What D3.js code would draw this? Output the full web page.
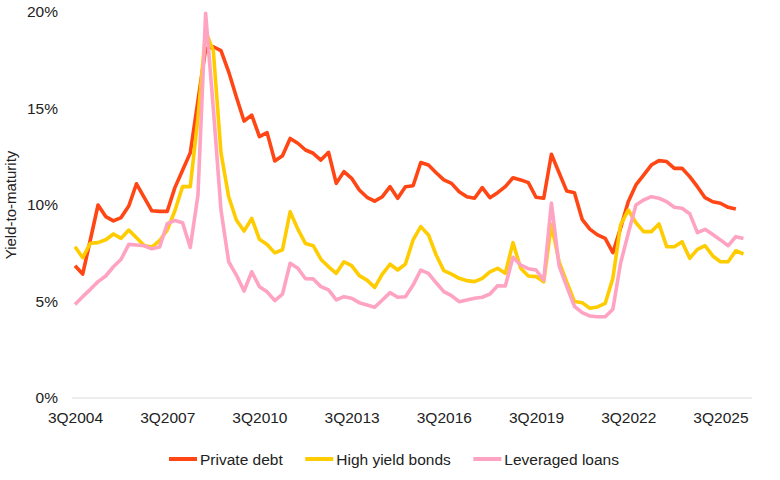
<!DOCTYPE html>
<html>
<head>
<meta charset="utf-8">
<script src="https://cdn.jsdelivr.net/npm/d3@7"></script>
<style>
  html, body { margin: 0; padding: 0; background: #fff; }
  svg text { font-family: "Liberation Sans", Arial, sans-serif; fill: #222; }
</style>
</head>
<body>
<div id="chart"></div>
<script>
// quarterly yields (%), first point 3Q2004
const startYear = 2004;
const startQuarter = 3;

const privateDebt = [
  6.85, 6.42, 8.2, 10.0, 9.4, 9.18, 9.35, 9.95, 11.1, 10.4,
  9.7, 9.67, 9.67, 10.9, 11.8, 12.7, 15.4, 18.1, 18.2, 18.0,
  16.9, 15.6, 14.35, 14.66, 13.54, 13.75, 12.28, 12.55, 13.45, 13.2,
  12.85, 12.68, 12.33, 12.73, 11.12, 11.73, 11.38, 10.78, 10.4, 10.2,
  10.43, 10.95, 10.35, 10.95, 11.0, 12.2, 12.07, 11.67, 11.3, 11.12,
  10.69, 10.43, 10.35, 10.9, 10.38, 10.64, 10.95, 11.41, 11.3, 11.16,
  10.4, 10.35, 12.63, 11.67, 10.72, 10.64, 9.26, 8.75, 8.45, 8.27,
  7.53, 8.8, 10.17, 11.04, 11.55, 12.07, 12.3, 12.25, 11.9, 11.9,
  11.47, 10.95, 10.38, 10.17, 10.09, 9.88, 9.79
];

const highYield = [
  7.84, 7.27, 8.02, 8.05, 8.2, 8.5, 8.27, 8.7, 8.3, 7.9,
  7.82, 8.15, 8.7, 9.7, 10.95, 10.95, 14.5, 19.0, 18.0, 12.7,
  10.43, 9.22, 8.65, 9.31, 8.22, 7.95, 7.52, 7.68, 9.65, 8.75,
  8.0, 7.89, 7.19, 6.8, 6.46, 7.06, 6.86, 6.34, 6.11, 5.73,
  6.42, 6.93, 6.63, 6.94, 8.19, 8.88, 8.45, 7.41, 6.6, 6.42,
  6.2, 6.08, 6.03, 6.2, 6.54, 6.72, 6.46, 8.05, 6.72, 6.32,
  6.29, 6.02, 9.0, 7.05, 6.0, 5.0, 4.94, 4.65, 4.72, 4.9,
  6.2, 8.96, 9.74, 9.08, 8.62, 8.62, 9.02, 7.84, 7.84, 8.1,
  7.24, 7.7, 7.89, 7.36, 7.06, 7.06, 7.63, 7.46
];

const leveragedLoans = [
  4.85, 5.25, 5.63, 6.03, 6.32, 6.8, 7.19, 7.96, 7.93, 7.89,
  7.73, 7.82, 9.03, 9.2, 9.08, 7.8, 10.5, 19.93, 15.0, 9.74,
  7.06, 6.37, 5.54, 6.54, 5.77, 5.5, 5.05, 5.38, 6.98, 6.72,
  6.18, 6.17, 5.77, 5.6, 5.08, 5.25, 5.17, 4.94, 4.82, 4.7,
  5.08, 5.46, 5.22, 5.25, 5.85, 6.63, 6.46, 5.97, 5.51, 5.3,
  4.99, 5.08, 5.17, 5.22, 5.39, 5.82, 5.8, 7.29, 6.89, 6.7,
  6.63, 6.1, 10.1, 6.85, 5.77, 4.75, 4.42, 4.25, 4.21, 4.21,
  4.6, 6.98, 8.53, 10.0, 10.26, 10.43, 10.35, 10.17, 9.88, 9.83,
  9.55, 8.57, 8.74, 8.47, 8.19, 7.89, 8.36, 8.27
];

const tickLabels = ["3Q2004", "3Q2007", "3Q2010", "3Q2013", "3Q2016", "3Q2019", "3Q2022", "3Q2025"];
const yTicks = [0, 5, 10, 15, 20];

const seriesList = [
  { name: "Private debt", values: privateDebt, color: "#ff4614" },
  { name: "High yield bonds", values: highYield, color: "#ffcc00" },
  { name: "Leveraged loans", values: leveragedLoans, color: "#ffa3c2" }
];

// quarter names for the category axis
const quarters = [];
for (let i = 0; i < leveragedLoans.length; i++) {
  const q = (startQuarter - 1 + i) % 4 + 1;
  const y = startYear + Math.floor((startQuarter - 1 + i) / 4);
  quarters.push(q + "Q" + y);
}

const width = 780;
const height = 480;

const svg = d3.select("#chart")
  .append("svg")
  .attr("width", width)
  .attr("height", height);

const x = d3.scalePoint()
  .domain(quarters)
  .range([75, 743.5]);

const y = d3.scaleLinear()
  .domain([0, 20])
  .range([398, 12]);

// baseline
svg.append("line")
  .attr("x1", 72)
  .attr("x2", 752)
  .attr("y1", y(0))
  .attr("y2", y(0))
  .attr("stroke", "#d9d9d9")
  .attr("stroke-width", 1);

// y axis labels
const yAxis = svg.append("g")
  .attr("transform", "translate(58,0)")
  .call(d3.axisLeft(y).tickValues(yTicks).tickSize(0).tickPadding(0).tickFormat((d) => d + "%"));
yAxis.select(".domain").remove();
yAxis.selectAll("text")
  .attr("font-size", "15.5px")
  .attr("font-family", null);

// x axis labels
const xAxis = svg.append("g")
  .attr("transform", "translate(0," + y(0) + ")")
  .call(d3.axisBottom(x).tickValues(tickLabels).tickSize(0).tickPadding(14));
xAxis.select(".domain").remove();
xAxis.selectAll("text")
  .attr("font-size", "15.5px")
  .attr("font-family", null);

// axis title
svg.append("text")
  .attr("transform", "translate(16,205) rotate(-90)")
  .attr("text-anchor", "middle")
  .attr("font-size", "15px")
  .text("Yield-to-maturity");

// lines
const line = d3.line()
  .x((d, i) => x(quarters[i]))
  .y((d) => y(d));

for (const s of seriesList) {
  svg.append("path")
    .datum(s.values)
    .attr("fill", "none")
    .attr("stroke", s.color)
    .attr("stroke-width", 3.6)
    .attr("stroke-linejoin", "round")
    .attr("d", line);
}

// legend, centred on the page
const legend = svg.append("g");
let cursor = 0;
for (const s of seriesList) {
  const item = legend.append("g").attr("transform", "translate(" + cursor + ",0)");
  item.append("line")
    .attr("x1", 0)
    .attr("x2", 28)
    .attr("y1", 0)
    .attr("y2", 0)
    .attr("stroke", s.color)
    .attr("stroke-width", 4);
  const label = item.append("text")
    .attr("x", 31)
    .attr("y", 5.5)
    .attr("font-size", "15.5px")
    .text(s.name);
  cursor += 31 + label.node().getComputedTextLength() + 22.5;
}
const legendWidth = cursor - 22.5;
legend.attr("transform", "translate(" + (394 - legendWidth / 2) + ",459)");
</script>
</body>
</html>
